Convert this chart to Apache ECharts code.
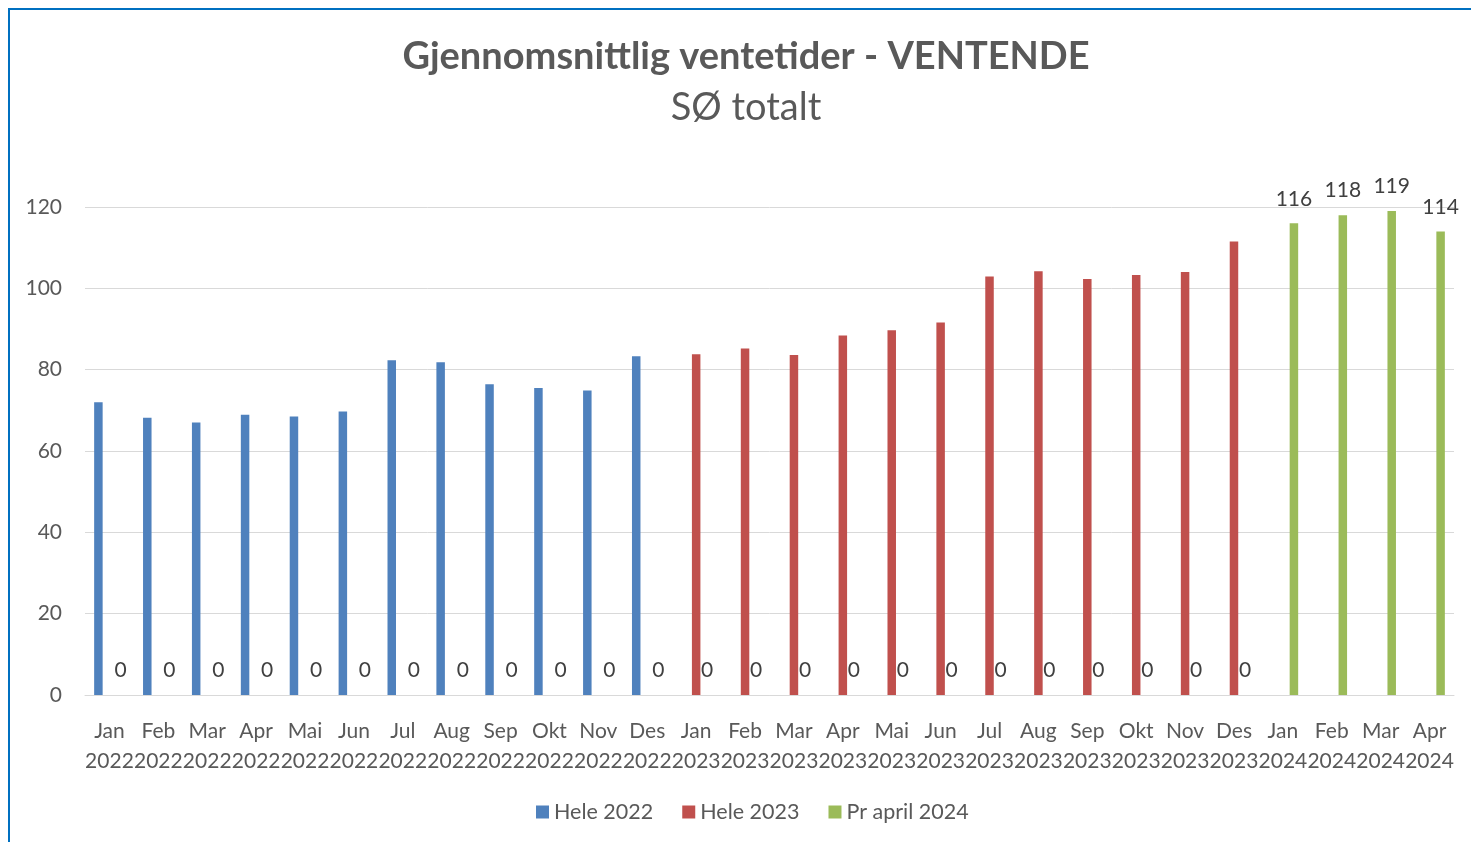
<!DOCTYPE html>
<html>
<head>
<meta charset="utf-8">
<script src="https://cdn.jsdelivr.net/npm/echarts@6/dist/echarts.min.js"></script>
<style>
html,body{margin:0;padding:0;background:#fff;}
#chart{width:1471px;height:842px;}
</style>
</head>
<body>
<div id="chart"></div>
<script>
const months = ['Jan','Feb','Mar','Apr','Mai','Jun','Jul','Aug','Sep','Okt','Nov','Des',
                'Jan','Feb','Mar','Apr','Mai','Jun','Jul','Aug','Sep','Okt','Nov','Des',
                'Jan','Feb','Mar','Apr'];
const years = ['2022','2022','2022','2022','2022','2022','2022','2022','2022','2022','2022','2022',
               '2023','2023','2023','2023','2023','2023','2023','2023','2023','2023','2023','2023',
               '2024','2024','2024','2024'];
const hele2022 = [72, 68.2, 67, 68.9, 68.5, 69.7, 82.3, 81.8, 76.4, 75.5, 74.9, 83.3,
                  null, null, null, null, null, null, null, null, null, null, null, null,
                  null, null, null, null];
const hele2023 = [null, null, null, null, null, null, null, null, null, null, null, null,
                  83.8, 85.2, 83.6, 88.4, 89.7, 91.6, 102.9, 104.2, 102.3, 103.3, 104.0, 111.5,
                  null, null, null, null];
const prApril2024 = [0, 0, 0, 0, 0, 0, 0, 0, 0, 0, 0, 0,
                     0, 0, 0, 0, 0, 0, 0, 0, 0, 0, 0, 0,
                     116, 118, 119, 114];
const yTicks = {min: 0, max: 120, interval: 20};

const categories = months.map((m, i) => m + '\n' + years[i]);
const FONT = 'Lato';
const chart = echarts.init(document.getElementById('chart'));
chart.setOption({
  backgroundColor: '#ffffff',
  animation: false,
  textStyle: {fontFamily: FONT},
  graphic: [{
    type: 'polyline',
    shape: {points: [[9, 842], [9, 9], [1471, 9]]},
    style: {stroke: '#0070C0', lineWidth: 2, fill: null}
  }],
  title: [{
    text: 'Gjennomsnittlig ventetider - VENTENDE',
    left: 741, top: 33, textAlign: 'center',
    textStyle: {fontFamily: FONT, fontSize: 38, fontWeight: 'bold', color: '#595959'}
  }, {
    text: 'SØ totalt',
    left: 741, top: 84, textAlign: 'center',
    textStyle: {fontFamily: FONT, fontSize: 38, fontWeight: 'normal', color: '#595959'}
  }],
  legend: {
    left: 531, top: 796,
    icon: 'rect', itemWidth: 13, itemHeight: 13, itemGap: 29,
    textStyle: {fontFamily: FONT, fontSize: 21.5, color: '#595959'},
    data: ['Hele 2022', 'Hele 2023', 'Pr april 2024']
  },
  grid: {left: 85, right: 17, top: 207, bottom: 147, containLabel: false},
  xAxis: {
    type: 'category',
    data: categories,
    axisLine: {show: true, lineStyle: {color: '#d9d9d9', width: 1}},
    axisTick: {show: false},
    axisLabel: {interval: 0, fontFamily: FONT, fontSize: 21, color: '#595959', lineHeight: 30, margin: 21}
  },
  yAxis: {
    type: 'value',
    min: yTicks.min, max: yTicks.max, interval: yTicks.interval,
    axisLine: {show: false},
    axisTick: {show: false},
    splitLine: {lineStyle: {color: '#d9d9d9', width: 1}},
    axisLabel: {fontFamily: FONT, fontSize: 21, color: '#595959', margin: 23}
  },
  series: [{
    name: 'Hele 2022', type: 'bar', data: hele2022,
    barWidth: 8.5, barGap: '30%',
    itemStyle: {color: '#4F81BD'}
  }, {
    name: 'Hele 2023', type: 'bar', data: hele2023,
    barWidth: 8.5, barGap: '30%',
    itemStyle: {color: '#C0504D'}
  }, {
    name: 'Pr april 2024', type: 'bar', data: prApril2024,
    barWidth: 8.5, barGap: '30%',
    itemStyle: {color: '#9BBB59'},
    label: {show: true, position: 'top', distance: 14, fontFamily: FONT, fontSize: 21, color: '#404040'}
  }]
});
</script>
</body>
</html>
